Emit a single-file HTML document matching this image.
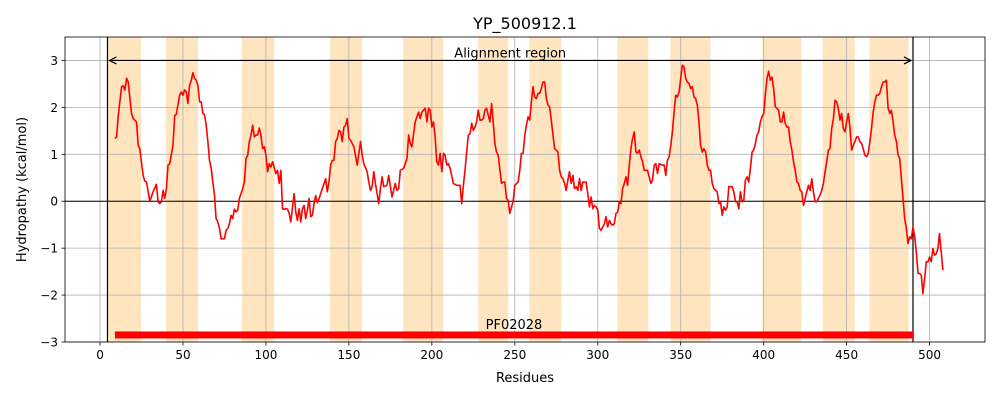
<!DOCTYPE html>
<html><head><meta charset="utf-8"><style>
body{margin:0;background:#fff;}
svg text{font-family:"DejaVu Sans","Liberation Sans",sans-serif;}
</style></head><body>
<svg id="chart" width="1000" height="400" xmlns="http://www.w3.org/2000/svg"></svg>
<script>
const xTicks=[0,50,100,150,200,250,300,350,400,450,500];
const yTicks=[-3,-2,-1,0,1,2,3];
const bandStarts=[4.8,39.8,85.6,138.7,182.7,228,258.7,311.8,343.8,399.3,435.5,463.8];
const bandEnds=[24.7,59.1,105,158,206.9,246,278,330.5,367.9,422.8,454.8,487.3];
const alignStart=4.5, alignEnd=490;
const domainStart=9, domainEnd=490, domainLabel="PF02028";
const residues=[9,10,11,13,14,15,16,17,19,20,22,23,24,26,27,28,30,32,34,35,36,37,38,39,40,41,42,44,45,46,48,49,50,51,52,53,54,55,56,57,58,59,60,61,62,63,64,65,66,67,68,69,70,71,72,73,74,75,76,77,78,79,80,81,82,83,84,86,87,88,89,90,91,92,93,94,95,96,97,98,99,100,101,102,103,104,106,107,108,109,110,111,112,113,114,115,117,118,119,120,121,122,123,124,125,126,127,128,129,130,131,132,134,136,137,138,139,140,141,142,143,144,145,146,147,148,149,150,151,153,155,157,158,159,161,162,163,164,165,166,168,169,170,171,173,174,176,178,179,180,181,183,185,186,187,188,190,191,192,193,194,195,196,197,198,199,200,201,202,203,204,205,206,207,208,209,210,211,213,215,217,218,219,220,221,222,223,224,225,226,227,228,229,230,231,232,233,235,236,237,238,239,240,242,243,244,245,246,247,248,249,250,252,253,254,255,256,257,258,259,260,261,262,263,264,265,266,267,268,269,270,271,272,273,274,275,276,277,278,279,280,281,282,283,284,285,286,287,288,289,290,291,293,294,295,296,297,298,299,300,301,302,303,304,305,306,307,308,309,310,311,312,313,314,315,316,317,318,319,320,321,322,323,324,325,326,327,328,329,330,331,332,333,334,335,336,337,339,340,341,342,343,344,345,346,347,348,349,350,351,352,353,354,355,356,357,358,359,360,361,362,363,364,365,366,367,368,369,370,371,372,373,374,375,376,377,378,379,381,382,383,384,385,386,387,388,389,390,391,392,393,394,395,396,397,398,399,400,401,402,403,404,405,406,407,408,409,410,411,412,413,414,415,416,417,418,419,420,421,422,423,424,425,426,427,428,429,430,431,432,433,434,435,436,437,438,439,440,441,442,443,444,445,446,447,448,449,450,451,452,453,454,455,456,457,458,459,460,461,462,463,464,465,466,467,468,469,470,471,472,473,474,475,476,477,478,479,480,481,482,483,484,485,486,487,488,489,490,491,492,493,494,495,496,497,498,499,500,501,502,503,504,505,506,507,508];
const hydropathy=[1.34,1.37,1.83,2.44,2.46,2.37,2.62,2.54,1.87,1.76,1.69,1.19,1.12,0.55,0.43,0.41,0,0.2,0.36,-0.01,-0.05,-0.01,0.23,0.06,0.27,0.77,0.80,1.19,1.83,1.85,2.26,2.33,2.26,2.37,2.33,2.08,2.47,2.58,2.74,2.62,2.58,2.47,2.12,2.12,1.87,1.85,1.62,1.27,0.87,0.70,0.41,0.13,-0.37,-0.44,-0.58,-0.80,-0.80,-0.80,-0.62,-0.58,-0.48,-0.30,-0.37,-0.17,-0.23,-0.19,0.06,0.27,0.41,0.91,0.98,1.27,1.41,1.62,1.37,1.41,1.41,1.56,1.41,1.12,1.16,0.98,0.63,0.80,0.73,0.84,0.59,0.66,0.38,0.66,-0.16,-0.17,-0.16,-0.17,-0.26,-0.44,0.16,-0.23,-0.41,-0.16,-0.44,-0.16,-0.09,-0.37,-0.19,0.06,-0.33,-0.3,-0.05,0.12,-0.03,0.05,0.27,0.48,0.2,0.41,0.77,0.87,0.87,1.27,1.34,1.51,1.48,1.27,1.58,1.62,1.76,1.34,1.30,1.16,0.77,1.27,0.98,0.80,0.63,0.41,0.23,0.31,0.63,0.38,-0.05,0.27,0.52,0.31,0.34,0.55,0.09,0.38,0.23,0.27,0.66,0.70,0.91,1.41,1.23,1.16,1.69,1.80,1.90,1.76,1.90,1.94,1.98,1.69,1.98,1.94,1.58,1.69,1.34,0.84,0.77,1.02,0.63,1.02,0.98,0.77,0.80,0.70,0.38,0.34,0.34,-0.05,0.34,0.66,1.05,1.41,1.44,1.66,1.51,1.58,1.69,1.94,1.73,1.73,1.76,1.94,1.98,1.69,2.08,1.69,1.23,1.05,0.98,0.38,0.41,0.41,0.06,0.02,-0.26,-0.12,-0.01,0.34,0.41,0.66,1.02,1.02,1.41,1.62,1.80,1.73,2.12,2.44,2.22,2.19,2.30,2.30,2.40,2.54,2.54,2.19,2.05,2.01,1.73,1.41,1.12,1.09,1.05,0.66,0.52,0.48,0.38,0.23,0.45,0.63,0.38,0.55,0.27,0.31,0.23,0.48,0.23,0.41,0.41,0.16,-0.12,0.09,-0.16,-0.09,-0.12,-0.19,-0.58,-0.62,-0.55,-0.48,-0.33,-0.55,-0.41,-0.48,-0.51,-0.48,-0.26,-0.23,-0.01,-0.05,0.27,0.38,0.52,0.34,0.77,1.12,1.34,1.48,1.05,1.02,1.09,0.95,0.84,0.66,0.66,0.66,0.52,0.38,0.45,0.77,0.80,0.59,0.80,0.77,0.77,0.55,0.87,0.95,1.19,1.48,1.90,2.26,2.22,2.33,2.62,2.90,2.86,2.62,2.54,2.51,2.40,2.44,2.22,2.19,2.05,1.69,1.19,1.05,1.12,1.05,0.77,0.66,0.66,0.38,0.27,0.23,0.20,-0.05,-0.01,-0.30,-0.12,-0.19,-0.12,0.31,0.31,0.20,-0.01,-0.01,-0.16,0.20,-0.01,0.02,0.45,0.52,0.41,0.70,1.05,1.09,1.23,1.41,1.48,1.69,1.80,1.87,2.26,2.62,2.77,2.58,2.65,2.40,2.01,1.98,1.94,1.69,1.69,1.90,1.66,1.58,1.58,1.27,1.09,0.84,0.66,0.41,0.38,0.23,0.20,-0.09,0.06,0.20,0.34,0.23,0.48,0.20,-0.01,-0.01,0.06,0.13,0.23,0.38,0.63,0.84,1.09,1.12,1.55,1.76,2.15,2.12,1.98,1.73,1.87,1.55,1.48,1.69,1.87,1.58,1.09,1.19,1.27,1.37,1.37,1.27,1.23,1.12,0.98,0.95,1.02,1.27,1.55,1.90,2.12,2.26,2.26,2.30,2.44,2.54,2.54,2.58,1.98,1.87,1.94,1.69,1.41,1.27,0.98,0.91,0.48,0.06,-0.37,-0.58,-0.90,-0.76,-0.80,-0.55,-0.76,-1.08,-1.54,-1.54,-1.58,-1.97,-1.65,-1.29,-1.29,-1.19,-1.29,-1.01,-1.15,-1.12,-1.01,-0.69,-1.08,-1.47];

const L=65,R=985,T=37,B=342,xMin=-21.1,xMax=533.4,yMin=-3,yMax=3.5;
const X=v=>L+(v-xMin)/(xMax-xMin)*(R-L);
const Y=v=>B-(v-yMin)/(yMax-yMin)*(B-T);
const svg=document.getElementById('chart');
const NS='http://www.w3.org/2000/svg';
function mk(tag,attrs,parent){const e=document.createElementNS(NS,tag);for(const k in attrs)e.setAttribute(k,attrs[k]);(parent||svg).appendChild(e);return e;}

for(let i=0;i<bandStarts.length;i++){
  const r=mk('rect',{x:X(bandStarts[i]),y:T,width:X(bandEnds[i])-X(bandStarts[i]),height:B-T,fill:'#ffe5bf'});
  
  
}
xTicks.forEach(t=>{
  const g=mk('line',{x1:X(t),x2:X(t),y1:T,y2:B,stroke:'#b0b0b0','stroke-width':0.8});
  
  
  mk('line',{x1:X(t),x2:X(t),y1:B,y2:B+3.5,stroke:'#000','stroke-width':0.8});
  const tx=mk('text',{x:X(t),y:B+17,'text-anchor':'middle','font-size':12});
  tx.textContent=t;
  
  
});
yTicks.forEach(t=>{
  const g=mk('line',{x1:L,x2:R,y1:Y(t),y2:Y(t),stroke:'#b0b0b0','stroke-width':0.8});
  
  
  mk('line',{x1:L-3.5,x2:L,y1:Y(t),y2:Y(t),stroke:'#000','stroke-width':0.8});
  const tx=mk('text',{x:L-7,y:Y(t)+4.5,'text-anchor':'end','font-size':12});
  tx.textContent=(t<0?'\u2212'+(-t):t);
  
  
});
mk('line',{x1:L,x2:R,y1:Y(0),y2:Y(0),stroke:'#000','stroke-width':1});
[alignStart,alignEnd].forEach(a=>{
  const l=mk('line',{x1:X(a),x2:X(a),y1:T,y2:B,stroke:'#000','stroke-width':1.2});
  
  
});
const ay=Y(3);
const arr=mk('g',{stroke:'#000','stroke-width':1.2,fill:'none'});


mk('line',{x1:X(alignStart)+2,x2:X(alignEnd)-2,y1:ay,y2:ay},arr);
mk('path',{d:`M${X(alignStart)+9},${ay-3.5} L${X(alignStart)+2},${ay} L${X(alignStart)+9},${ay+3.5}`},arr);
mk('path',{d:`M${X(alignEnd)-9},${ay-3.5} L${X(alignEnd)-2},${ay} L${X(alignEnd)-9},${ay+3.5}`},arr);
const at=mk('text',{x:(X(alignStart)+X(alignEnd))/2,y:ay-3,'text-anchor':'middle','font-size':13});
at.textContent='Alignment region';


const db=mk('rect',{x:X(domainStart),y:Y(-2.85)-3.5,width:X(domainEnd)-X(domainStart),height:7,fill:'#ff0000'});


const dt=mk('text',{x:(X(domainStart)+X(domainEnd))/2,y:Y(-2.85)-6,'text-anchor':'middle','font-size':13});
dt.textContent=domainLabel;


const pts=residues.map((r,i)=>X(r).toFixed(1)+','+Y(hydropathy[i]).toFixed(1)).join(' ');
const pl=mk('polyline',{points:pts,fill:'none',stroke:'#ff0000','stroke-width':1.6,'stroke-linejoin':'round'});


mk('rect',{x:L,y:T,width:R-L,height:B-T,fill:'none',stroke:'#000','stroke-width':0.8});
const ti=mk('text',{x:(L+R)/2,y:29,'text-anchor':'middle','font-size':16});
ti.textContent='YP_500912.1';


const xl=mk('text',{x:(L+R)/2,y:382,'text-anchor':'middle','font-size':13});
xl.textContent='Residues';


const yl=mk('text',{x:0,y:0,'text-anchor':'middle','font-size':13,transform:`translate(26,${(T+B)/2}) rotate(-90)`});
yl.textContent='Hydropathy (kcal/mol)';


</script>
</body></html>
